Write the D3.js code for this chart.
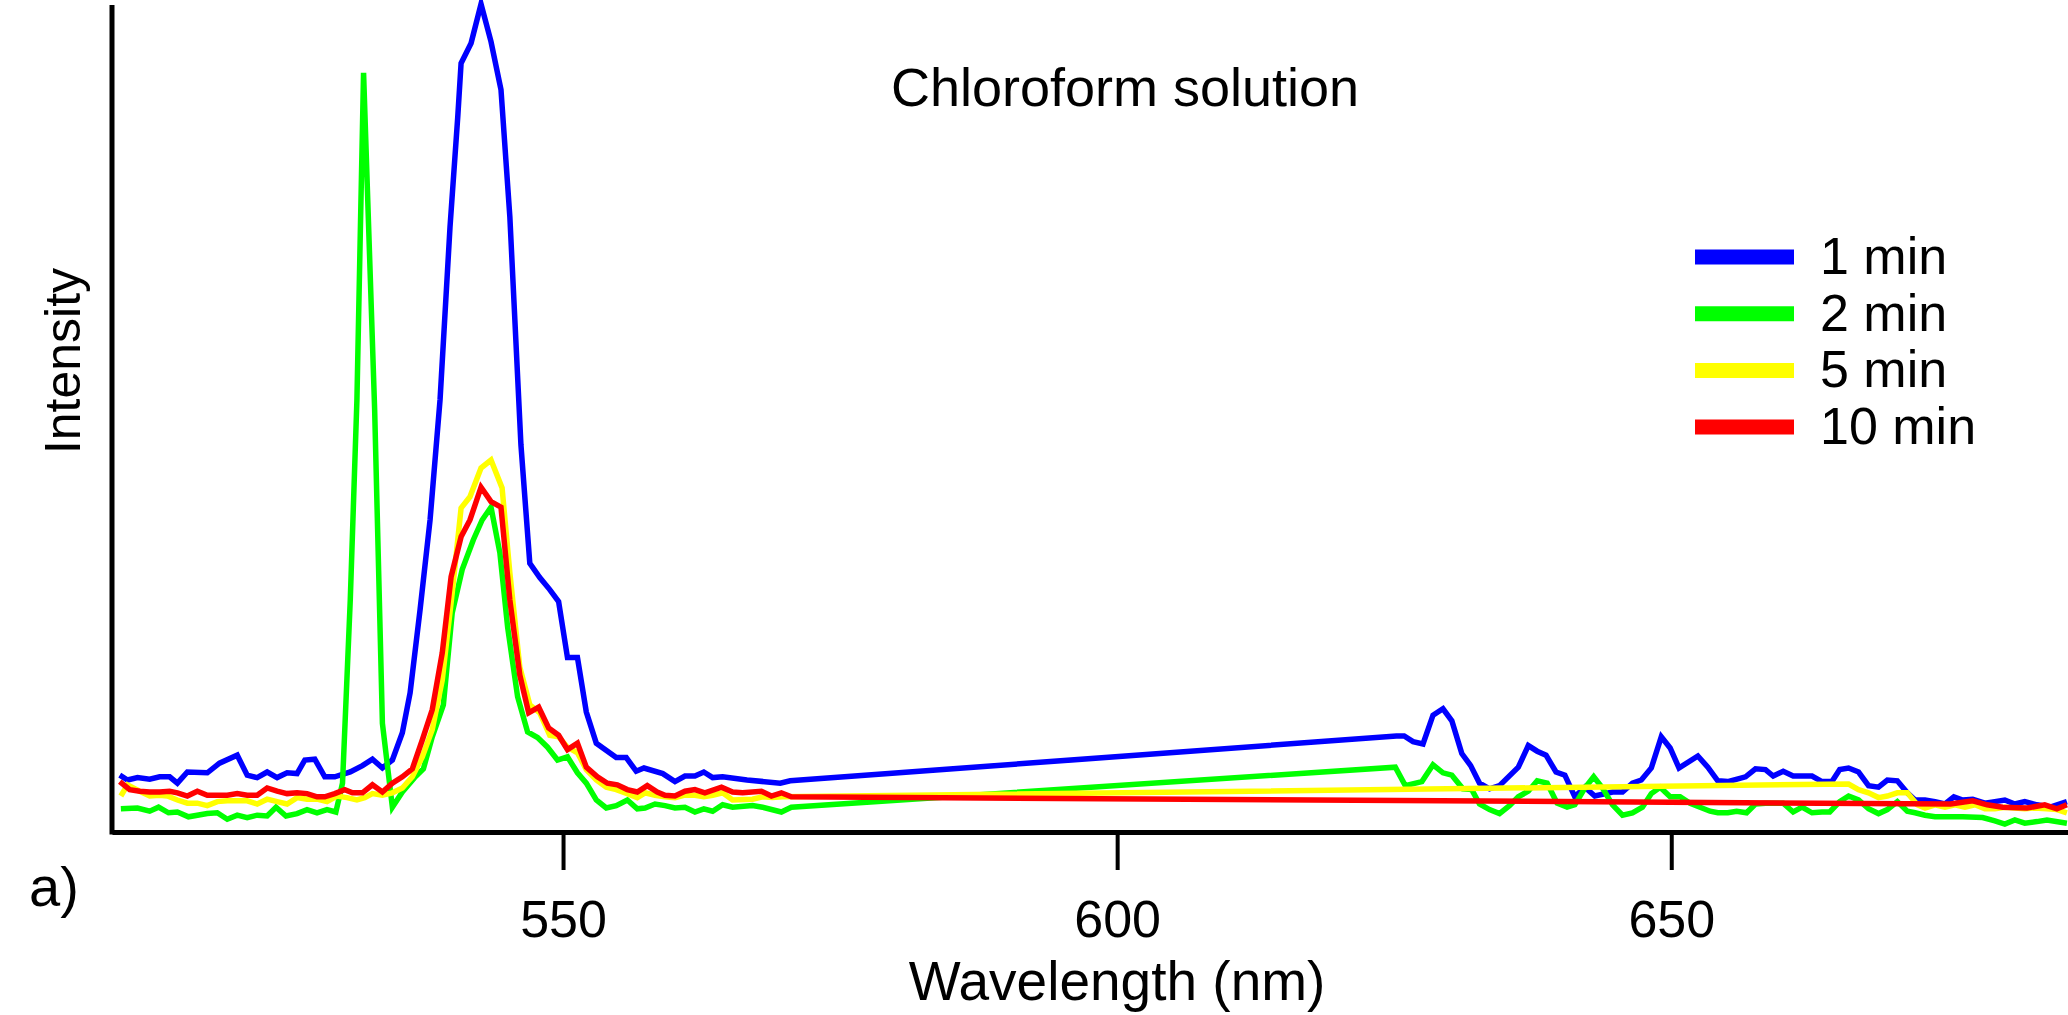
<!DOCTYPE html>
<html>
<head>
<meta charset="utf-8">
<script src="https://cdn.jsdelivr.net/npm/d3@7"></script>
<style>
  body { margin: 0; background: #fff; }
  text { font-family: "Liberation Sans", Arial, sans-serif; fill: #000; }
</style>
</head>
<body>
<div id="chart"></div>
<script>
// wavelength (nm), intensity (a.u.)
const oneMin = [
  [510.0,7.1],[510.7,6.5],[511.6,6.8],[512.7,6.6],[513.6,6.9],[514.5,6.9],[515.2,6.1],[516.1,7.5],
  [517.9,7.4],[519.0,8.6],[520.6,9.6],[521.5,7.1],[522.4,6.8],[523.3,7.5],[524.2,6.8],[525.1,7.4],
  [526.0,7.3],[526.7,9.0],[527.6,9.1],[528.5,6.9],[529.4,6.9],[530.8,7.5],[531.9,8.3],[532.8,9.1],
  [533.7,8.0],[534.6,9.0],[535.5,12.4],[536.2,17.4],[537.1,27.8],[538.0,39.0],[538.9,54.0],[539.8,75.6],
  [540.5,89.4],[540.8,96.1],[541.7,98.6],[542.6,103.5],[543.5,98.8],[544.4,92.8],[545.2,76.9],[546.2,48.4],
  [547.0,33.6],[547.9,31.8],[548.8,30.3],[549.6,28.8],[550.4,21.8],[551.3,21.8],[552.1,15.0],[553.0,11.1],
  [554.8,9.3],[555.7,9.3],[556.6,7.6],[557.3,8.0],[559.0,7.3],[560.1,6.3],[561.0,7.0],[561.9,7.0],
  [562.7,7.5],[563.5,6.8],[564.4,6.9],[566.6,6.5],[569.6,6.1],[570.5,6.4],
  [625.2,12.0],[625.9,12.0],[626.7,11.3],[627.6,11.0],[628.5,14.6],[629.4,15.4],[630.2,13.9],[631.1,9.8],
  [631.9,8.3],[632.7,6.1],[633.6,5.4],[634.5,5.8],[636.2,8.1],[637.1,10.8],[637.9,10.1],[638.7,9.6],
  [639.6,7.5],[640.4,7.1],[641.3,4.4],[642.2,5.6],[643.1,4.5],[644.7,5.0],[645.6,5.0],[646.5,6.1],
  [647.3,6.5],[648.2,8.0],[649.1,11.9],[649.9,10.5],[650.7,8.0],[652.4,9.5],[653.3,8.1],[654.2,6.4],
  [655.1,6.3],[656.7,6.9],[657.6,7.9],[658.5,7.8],[659.2,7.0],[660.1,7.6],[661.0,7.0],[662.7,7.0],
  [663.6,6.3],[664.5,6.3],[665.2,7.8],[666.0,8.0],[666.9,7.5],[667.8,5.8],[668.7,5.6],[669.5,6.5],
  [670.4,6.4],[671.3,4.9],[672.0,4.0],[672.9,4.0],[673.8,3.8],[674.7,3.5],[675.5,4.4],[676.3,4.0],
  [677.2,4.1],[678.3,3.6],[679.2,3.8],[680.1,4.0],[681.0,3.5],[681.9,3.8],[683.0,3.4],[684.2,3.1],
  [685.7,3.8]
];

const twoMin = [
  [510.1,2.9],[511.6,3.0],[512.7,2.6],[513.5,3.1],[514.4,2.4],[515.2,2.5],[516.2,1.9],[517.9,2.3],
  [518.8,2.4],[519.7,1.6],[520.6,2.1],[521.5,1.8],[522.4,2.1],[523.3,2.0],[524.1,3.1],[525.0,2.0],
  [526.0,2.3],[526.9,2.8],[527.8,2.4],[528.7,2.8],[529.5,2.5],[530.1,6.1],[530.8,29.0],[531.4,54.0],
  [532.0,94.9],[533.0,52.8],[533.7,13.6],[534.6,3.1],[535.5,5.0],[536.6,6.8],[537.4,7.9],[538.2,11.9],
  [539.2,15.9],[540.0,27.4],[540.9,32.8],[541.9,36.5],[542.7,39.0],[543.5,40.6],[544.3,34.9],[545.0,25.6],
  [545.9,16.9],[546.8,12.5],[547.7,11.8],[548.6,10.6],[549.5,9.0],[550.4,9.4],[551.3,7.4],[552.1,6.1],
  [553.0,4.0],[553.9,3.0],[554.8,3.3],[555.8,4.0],[556.7,2.9],[557.4,3.0],[558.3,3.5],[559.2,3.3],
  [560.1,3.0],[561.0,3.1],[561.9,2.5],[562.7,2.9],[563.5,2.6],[564.4,3.4],[565.3,3.1],[567.1,3.3],
  [568.0,3.1],[569.7,2.5],[570.6,3.1],
  [625.1,8.1],[626.0,5.8],[627.5,6.3],[628.5,8.4],[629.4,7.4],[630.2,7.1],[631.2,5.4],[632.0,5.3],
  [632.7,3.5],[633.6,2.8],[634.5,2.3],[635.4,3.3],[636.2,4.4],[637.1,5.1],[637.9,6.4],[638.8,6.1],
  [639.7,3.6],[640.6,3.1],[641.3,3.4],[642.2,5.5],[643.0,6.9],[643.8,5.5],[644.7,3.4],[645.6,2.1],
  [646.5,2.4],[647.4,3.1],[648.2,4.8],[649.0,5.6],[649.9,4.4],[650.8,4.4],[651.7,3.6],[652.6,3.1],
  [653.5,2.6],[654.2,2.4],[655.1,2.4],[655.9,2.6],[656.8,2.4],[657.6,3.5],[658.5,3.6],[660.1,3.6],
  [661.0,2.5],[661.8,3.1],[662.7,2.4],[663.6,2.5],[664.3,2.5],[665.2,3.8],[666.0,4.5],[666.9,4.0],
  [667.8,2.9],[668.7,2.3],[669.5,2.8],[670.4,3.8],[671.3,2.6],[672.0,2.4],[672.9,2.1],[673.8,1.9],
  [674.7,1.9],[676.3,1.9],[678.1,1.8],[679.2,1.4],[680.1,1.0],[681.0,1.5],[681.9,1.1],[683.0,1.3],
  [683.9,1.5],[685.7,1.1]
];

const fiveMin = [
  [510.1,4.5],[510.7,5.9],[511.8,5.1],[512.7,4.5],[513.6,4.6],[514.3,4.5],[515.2,4.0],[516.1,3.6],
  [517.0,3.6],[517.9,3.3],[518.8,3.8],[519.7,3.9],[520.6,3.9],[521.5,3.9],[522.4,3.5],[523.3,4.1],
  [524.2,3.8],[525.1,3.5],[526.0,4.3],[526.9,4.1],[527.8,4.1],[528.7,3.8],[529.6,4.5],[530.5,4.3],
  [531.4,4.0],[532.1,4.3],[532.8,4.8],[533.7,4.6],[534.6,4.9],[535.5,5.5],[536.4,6.9],[537.3,9.4],
  [538.2,12.8],[539.1,19.0],[540.0,29.9],[540.8,40.5],[541.6,41.9],[542.6,45.5],[543.5,46.5],[544.5,43.0],
  [545.2,32.4],[546.1,20.6],[547.0,15.9],[547.9,14.9],[548.8,12.1],[549.6,11.9],[550.4,10.6],[551.3,9.9],
  [552.1,7.8],[553.0,6.5],[553.9,5.6],[554.8,5.3],[555.8,4.8],[556.7,4.3],[557.4,4.9],[558.3,4.6],
  [559.2,4.4],[560.1,4.3],[561.0,4.6],[561.9,4.6],[562.7,4.4],[563.5,4.6],[564.4,4.9],[565.3,4.0],
  [567.1,4.1],[568.0,4.4],[568.9,4.3],[569.8,4.4],
  [666.0,6.0],[666.9,5.3],[667.8,4.9],[668.7,4.3],[669.5,4.5],[670.4,4.9],[671.3,4.9],[672.2,3.4],
  [672.9,3.0],[673.8,3.4],[674.7,3.1],[675.6,3.4],[676.5,3.1],[677.4,3.4],[678.3,2.9],[679.2,2.9],
  [680.1,3.1],[681.0,3.0],[681.9,2.9],[682.8,3.0],[683.9,2.9],[684.8,2.8],[685.7,2.4]
];

const tenMin = [
  [510.0,6.3],[510.9,5.3],[511.8,5.1],[512.7,5.0],[513.6,5.0],[514.5,5.1],[515.2,4.9],[516.1,4.5],
  [517.0,5.1],[517.9,4.6],[518.8,4.6],[519.7,4.6],[520.6,4.8],[521.5,4.6],[522.4,4.6],[523.3,5.5],
  [524.2,5.1],[525.1,4.8],[526.0,4.9],[526.9,4.8],[527.8,4.4],[528.5,4.4],[529.4,4.8],[530.3,5.3],
  [531.0,4.9],[531.9,4.9],[532.8,5.9],[533.7,5.0],[534.6,6.1],[535.5,6.9],[536.4,7.9],[537.3,11.5],
  [538.2,15.3],[539.1,22.4],[539.9,31.9],[540.8,36.9],[541.6,39.0],[542.6,43.1],[543.5,41.3],[544.4,40.6],
  [545.2,29.0],[546.1,19.6],[546.9,14.9],[547.8,15.6],[548.7,13.0],[549.6,12.1],[550.4,10.3],[551.3,11.1],
  [552.1,8.1],[553.1,6.9],[554.0,6.1],[554.9,5.9],[555.8,5.3],[556.7,5.0],[557.6,5.8],[558.5,5.0],
  [559.2,4.6],[560.1,4.5],[561.0,5.1],[561.9,5.3],[562.8,4.9],[564.3,5.6],[565.3,5.0],[566.2,4.9],
  [567.9,5.1],[568.8,4.5],[569.7,4.9],[570.6,4.4],
  [675.2,3.5],[677.2,3.9],[678.5,3.4],[679.9,3.1],[682.1,3.0],[683.7,3.4],[684.8,2.9],[685.7,3.4]
];

const seriesNames = ["1 min", "2 min", "5 min", "10 min"];
const seriesColors = ["#0000ff", "#00ff00", "#ffff00", "#ff0000"];
const seriesData = [oneMin, twoMin, fiveMin, tenMin];
const xTicks = [550, 600, 650];

const width = 2068, height = 1015;

const svg = d3.select("#chart")
  .append("svg")
  .attr("width", width)
  .attr("height", height);

const x = d3.scaleLinear().domain([509.3, 685.8]).range([112, 2068]);
const y = d3.scaleLinear().domain([0, 104]).range([832, 0]);

// curves
const line = d3.line()
  .x(d => x(d[0]))
  .y(d => y(d[1]));

svg.selectAll(".spec")
  .data(seriesData)
  .enter().append("path")
  .attr("class", "spec")
  .attr("d", line)
  .attr("fill", "none")
  .attr("stroke", (d, i) => seriesColors[i])
  .attr("stroke-width", 5.5)
  .attr("stroke-linejoin", "miter");

// x axis
const xAxis = svg.append("g")
  .attr("transform", `translate(0,${y(0)})`)
  .call(d3.axisBottom(x).tickValues(xTicks).tickSize(38).tickSizeOuter(0).tickFormat(d3.format("d")));

xAxis.select(".domain")
  .attr("stroke", "#000")
  .attr("stroke-width", 5);
xAxis.selectAll(".tick line")
  .attr("stroke", "#000")
  .attr("stroke-width", 4);
xAxis.selectAll(".tick text")
  .attr("y", 105)
  .attr("dy", 0)
  .style("font-family", '"Liberation Sans", Arial, sans-serif')
  .style("font-size", "52px");

// y axis (plain line, no ticks)
svg.append("line")
  .attr("x1", x.range()[0]).attr("x2", x.range()[0])
  .attr("y1", 5).attr("y2", y(0) + 2.5)
  .attr("stroke", "#000")
  .attr("stroke-width", 5);

// labels
svg.append("text")
  .attr("x", 1125).attr("y", 106)
  .attr("text-anchor", "middle")
  .style("font-size", "54px")
  .text("Chloroform solution");

svg.append("text")
  .attr("x", 1117).attr("y", 1000)
  .attr("text-anchor", "middle")
  .style("font-size", "55px")
  .text("Wavelength (nm)");

svg.append("text")
  .attr("transform", "translate(80,361) rotate(-90)")
  .attr("text-anchor", "middle")
  .style("font-size", "50px")
  .text("Intensity");

svg.append("text")
  .attr("x", 29).attr("y", 906)
  .style("font-size", "56px")
  .text("a)");

// legend
const legend = svg.selectAll(".legend")
  .data(seriesNames)
  .enter().append("g")
  .attr("class", "legend")
  .attr("transform", (d, i) => `translate(1695,${257 + i * 56.7})`);

legend.append("line")
  .attr("x1", 0).attr("x2", 99)
  .attr("stroke", (d, i) => seriesColors[i])
  .attr("stroke-width", 15);

legend.append("text")
  .attr("x", 125).attr("y", 17)
  .style("font-size", "52px")
  .text(d => d);
</script>
</body>
</html>
